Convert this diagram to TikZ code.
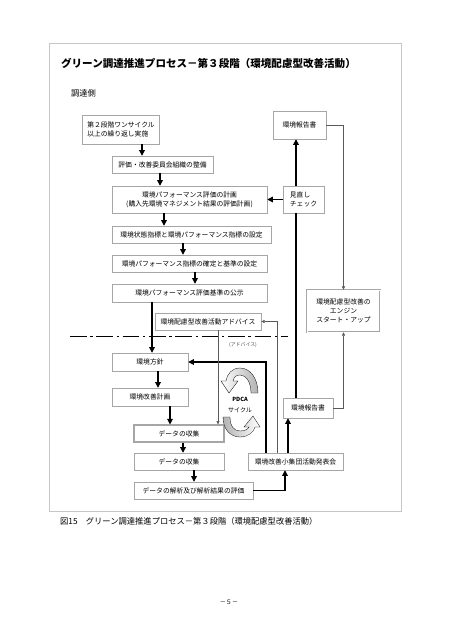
\documentclass[tikz,border=0pt]{standalone}
\usepackage{fontspec}
\setmainfont{Noto Sans CJK JP}
\usetikzlibrary{arrows.meta}
\tikzset{
  box/.style={draw=gray!70, line width=0.6pt, fill=white, inner sep=1pt, align=center, font=\fontsize{9}{12}\selectfont},
  boxw/.style={minimum width=#1*0.4667mm},
  boxh/.style={minimum height=#1*0.4667mm},
  txt/.style={anchor=west, inner sep=0pt},
  arr/.style={line width=1.4pt, -{Triangle[length=7.5pt,width=7.5pt]}},
  bar/.style={line width=1.4pt},
  graylink/.style={draw=gray!70!black, line width=0.6pt, -{Triangle[length=4.5pt,width=4pt]}},
  pdcaarrow/.style={draw=black, line width=0.4pt}
}
\begin{document}
\begin{tikzpicture}[x=0.4667mm,y=-0.4667mm]
\useasboundingbox (0,0) rectangle (450,637);
\draw[gray!45] (49,43) rectangle (401,511);
\node[txt, font=\bfseries\fontsize{14}{16}\selectfont] (title) at (61,63) {グリーン調達推進プロセス－第３段階（環境配慮型改善活動）};
\node[txt, font=\fontsize{11}{13}\selectfont] (side) at (71,93) {調達側};
\node[box, boxw=77, boxh=29, align=left] (b1) at (121,129.5) {第２段階ワンサイクル\\以上の繰り返し実施};
\node[box, boxw=101, boxh=17] (b2) at (162.5,164.5) {評価・改善委員会組織の整備};
\node[box, boxw=155, boxh=27] (b3) at (189.5,199.5) {環境パフォーマンス評価の計画\\(購入先環境マネジメント結果の評価計画)};
\node[box, boxw=159, boxh=17] (b4) at (191.5,234.5) {環境状態指標と環境パフォーマンス指標の設定};
\node[box, boxw=155, boxh=17] (b5) at (189.5,263.5) {環境パフォーマンス指標の確定と基準の設定};
\node[box, boxw=155, boxh=18] (b6) at (189.5,293) {環境パフォーマンス評価基準の公示};
\node[box, boxw=106, boxh=17] (advice) at (208,321.5) {環境配慮型改善活動アドバイス};
\node[box, boxw=76, boxh=18] (policy) at (150,362) {環境方針};
\node[box, boxw=76, boxh=18] (plan) at (150,397) {環境改善計画};
\node[box, boxw=90, boxh=17, line width=1.4pt] (collect1) at (179,433.5) {データの収集};
\node[box, boxw=90, boxh=17] (collect2) at (179,461.5) {データの収集};
\node[box, boxw=119, boxh=17] (analysis) at (193.5,490.5) {データの解析及び解析結果の評価};
\node[box, boxw=95, boxh=17] (meeting) at (295.5,461.5) {環境改善小集団活動発表会};
\node[box, boxw=50, boxh=20] (reportB) at (308,408) {環境報告書};
\node[box, boxw=73, boxh=42, double=white, double distance=1.2pt] (engine) at (343.5,311) {環境配慮型改善の\\エンジン\\スタート・アップ};
\node[box, boxw=53, boxh=28] (reportA) at (299.5,125) {環境報告書};
\node[box, boxw=41, boxh=27, align=left] (review) at (303.5,199.5) {見直し\\チェック};
\node[font=\fontsize{6.5}{7}\selectfont, text=gray!60!black] (advlabel) at (243,345) {(アドバイス)};
\node[font=\bfseries\fontsize{7.5}{9}\selectfont] (pdca) at (240,399) {PDCA};
\node[font=\fontsize{8}{9}\selectfont] (cycle) at (240,410) {サイクル};
\node[txt, font=\fontsize{11}{13}\selectfont] (caption) at (60,521) {図15　グリーン調達推進プロセス－第３段階（環境配慮型改善活動）};
\node[font=\fontsize{8}{9}\selectfont] (page) at (229,602) {－５－};
\draw[line width=1pt, dash pattern=on 22pt off 5pt on 3pt off 5pt] (70,336) -- (288,336);
\draw[pdcaarrow, left color=white, right color=gray!60] (258,393) .. controls (258,378) and (250,368) .. (240,368) .. controls (232,368) and (227,374) .. (226,381) -- (221,381) -- (229,393) -- (238,381) -- (233,381) .. controls (234,377) and (236,375) .. (240,375) .. controls (246,375) and (251,382) .. (251,393) -- cycle;
\draw[pdcaarrow, left color=gray!60, right color=white] (223,417) .. controls (223,430) and (231,437) .. (240,437) .. controls (248,437) and (254,432) .. (255,427) -- (260,427) -- (253,416) -- (244,427) -- (249,427) .. controls (248,429) and (245,431) .. (240,431) .. controls (234,431) and (230,426) .. (230,417) -- cycle;
\draw[arr] (b1.south -| 142,0) -- (b2.north -| 142,0);
\draw[arr] (b2.south -| 160,0) -- (b3.north -| 160,0);
\draw[arr] (b3.south -| 164,0) -- (b4.north -| 164,0);
\draw[arr] (b4.south -| 183,0) -- (b5.north -| 183,0);
\draw[arr] (b5.south -| 195,0) -- (b6.north -| 195,0);
\draw[arr] (b6.south -| 152,0) -- (policy.north -| 152,0);
\draw[arr] (policy.south -| 158,0) -- (plan.north -| 158,0);
\draw[arr] (plan.south -| 170,0) -- (collect1.north -| 170,0);
\draw[arr] (collect1.south -| 183,0) -- (collect2.north -| 183,0);
\draw[arr] (collect2.south -| 194,0) -- (analysis.north -| 194,0);
\draw[arr] (analysis.east) -| (meeting.south -| 285,0);
\draw[arr] (meeting.north -| 288,0) -- (reportB.south -| 288,0);
\draw[arr] (meeting.north -| 266,0) |- (policy.east);
\draw[graylink] (meeting.north -| 277,0) |- (advice.east);
\draw[graylink] (advice.south -| 218,0) -- (collect1.north -| 218,0);
\draw[bar] (reportB.north -| 296,0) -- (review.south -| 296,0);
\draw[arr] (review.north -| 296,0) -- (reportA.south -| 296,0);
\draw[arr] (review.west) -- (b3.east);
\draw[graylink] (reportA.east) -| (engine.north);
\draw[graylink] (reportB.east) -| (engine.south);
\end{tikzpicture}
\end{document}
